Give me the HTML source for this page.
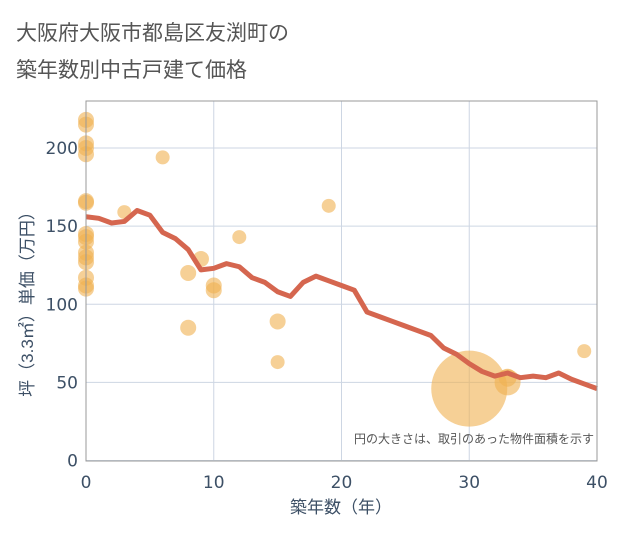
<!DOCTYPE html>
<html><head><meta charset="utf-8"><style>
body{margin:0;background:#fff;font-family:"Liberation Sans","Noto Sans CJK JP",sans-serif;}
</style></head><body>
<svg width="621" height="530" xmlns="http://www.w3.org/2000/svg" style="font-family:'Liberation Sans','Noto Sans CJK JP',sans-serif">
<rect width="621" height="530" fill="#fff"/>
<text x="16" y="40" font-size="21" fill="#555">大阪府大阪市都島区友渕町の</text>
<text x="16" y="77" font-size="21" fill="#555">築年数別中古戸建て価格</text>
<g id="grid"></g>
<g id="ticks"></g>
<g id="dots"></g>
<path id="line" fill="none" stroke="#d5664f" stroke-width="5" stroke-linejoin="round"/>
<rect x="86" y="101" width="511" height="360" fill="none" stroke="#999" stroke-width="1"/>
<text x="594" y="443" font-size="12" fill="#555" text-anchor="end">円の大きさは、取引のあった物件面積を示す</text>
<text x="341" y="513" font-size="17" fill="#3d5066" text-anchor="middle">築年数（年）</text>
<text transform="translate(33,300) rotate(-90)" font-size="17" fill="#3d5066" text-anchor="middle">坪（3.3㎡）単価（万円）</text>
</svg>
<script>
const lineYears=[0,1,2,3,4,5,6,7,8,9,10,11,12,13,14,15,16,17,18,19,20,21,22,23,24,25,26,27,28,29,30,31,32,33,34,35,36,37,38,39,40];
const lineValues=[156,155,152,153,160,157,146,142,135,122,123,126,124,117,114,108,105,114,118,115,112,109,95,92,89,86,83,80,72,68,62,57,54,56,53,54,53,56,52,49,46];
const dotYears=[0,0,0,0,0,0,0,0,0,0,0,0,0,0,0,0,3,6,8,8,9,10,10,12,15,15,19,30,33,33,39];
const dotValues=[218,215,203,200,196,166,165,145,143,140,133,130,127,117,112,110,159,194,120,85,129,112,109,143,89,63,163,46,50,53,70];
const dotRadius=[8,8,8,8,8,8,8,8,8,8,8,8,8,8,8,8,7,7,8,8,8,8,8,7,8,7,7,38,13,9,7];
const xTicks=[0,10,20,30,40];
const yTicks=[0,50,100,150,200];
const NS="http://www.w3.org/2000/svg";
const X=v=>86+v*12.775, Y=v=>460.5-v*1.5625;
const grid=document.getElementById('grid'),ticks=document.getElementById('ticks'),dots=document.getElementById('dots');
function mk(tag,attrs,parent){const e=document.createElementNS(NS,tag);for(const k in attrs)e.setAttribute(k,attrs[k]);parent.appendChild(e);return e;}
xTicks.forEach(t=>{
 const l=mk('line',{x1:X(t),x2:X(t),y1:101,y2:461,stroke:'#cdd6e3','stroke-width':1},grid);
 
 
 const tx=mk('text',{x:X(t),y:488,'font-size':17,fill:'#3d5066','text-anchor':'middle','font-family':'DejaVu Sans, sans-serif'},ticks);
 tx.textContent=t;
 
 
});
yTicks.forEach(t=>{
 const l=mk('line',{x1:86,x2:597,y1:Y(t),y2:Y(t),stroke:'#cdd6e3','stroke-width':1},grid);
 
 
 const tx=mk('text',{x:78,y:Y(t)+6,'font-size':17,fill:'#3d5066','text-anchor':'end','font-family':'DejaVu Sans, sans-serif'},ticks);
 tx.textContent=t;
 
 
});
dotYears.forEach((yr,i)=>{
 const c=mk('circle',{cx:X(yr),cy:Y(dotValues[i]),r:dotRadius[i],fill:'#f0b050','fill-opacity':0.6},dots);
 
 
});
document.getElementById('line').setAttribute('d',lineYears.map((yr,i)=>(i?'L':'M')+X(yr)+','+Y(lineValues[i])).join(''));
</script>
</body></html>
